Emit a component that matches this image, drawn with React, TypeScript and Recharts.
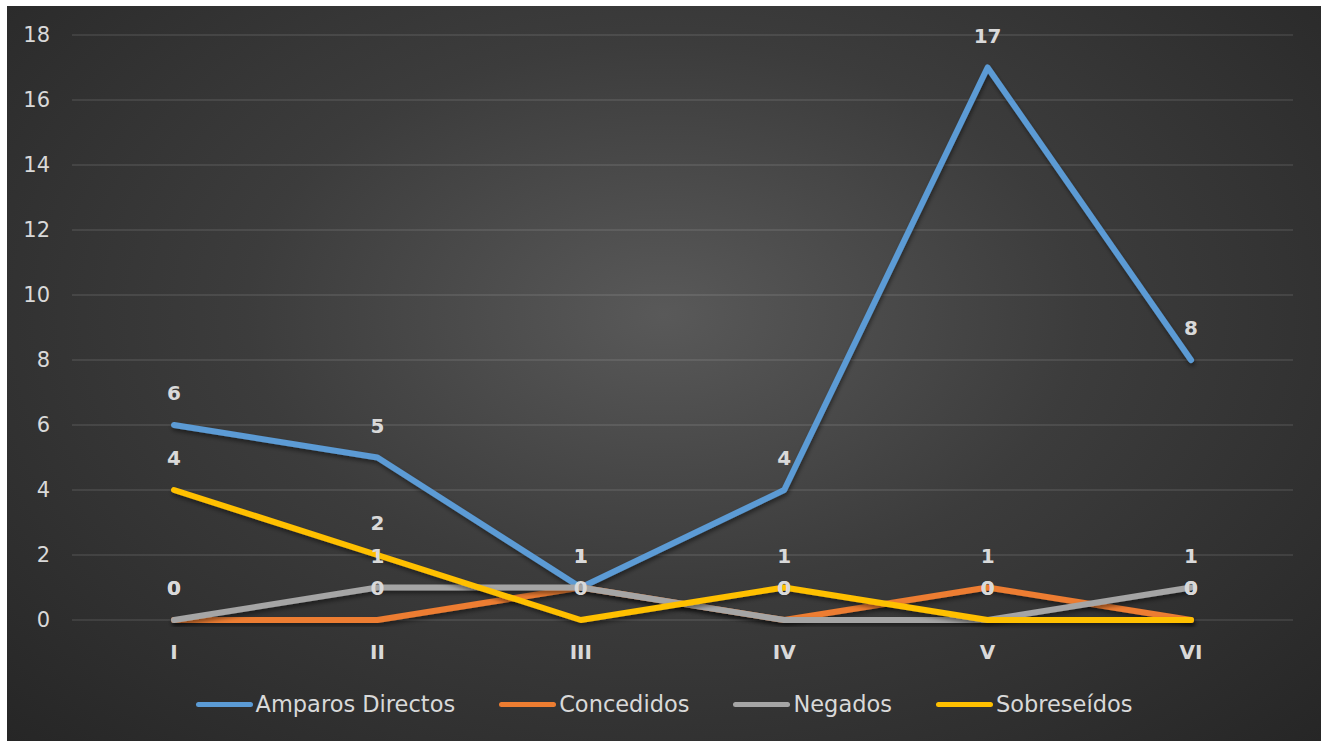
import React from "react";
import { LineChart, Line, XAxis, YAxis, CartesianGrid, Legend, LabelList } from "recharts";

const periods = ["I", "II", "III", "IV", "V", "VI"];
const amparosDirectos = [6, 5, 1, 4, 17, 8];
const concedidos = [0, 0, 1, 0, 1, 0];
const negados = [0, 1, 1, 0, 0, 1];
const sobreseidos = [4, 2, 0, 1, 0, 0];
const yTicks = [0, 2, 4, 6, 8, 10, 12, 14, 16, 18];

const SERIES = [
  { key: "amparos", name: "Amparos Directos", color: "#5b9bd5" },
  { key: "concedidos", name: "Concedidos", color: "#ed7d31" },
  { key: "negados", name: "Negados", color: "#a5a5a5" },
  { key: "sobreseidos", name: "Sobreseídos", color: "#ffc000" },
];

const data = periods.map((p, i) => ({
  period: p,
  amparos: amparosDirectos[i],
  concedidos: concedidos[i],
  negados: negados[i],
  sobreseidos: sobreseidos[i],
}));

const FONT = "'DejaVu Sans', sans-serif";
const TEXT = "#d9d9d9";

function LegendRow() {
  return (
    <div
      style={{
        height: 40,
        display: "flex",
        justifyContent: "center",
        alignItems: "center",
        gap: 44,
        fontFamily: FONT,
        fontSize: 22.5,
        color: TEXT,
      }}
    >
      {SERIES.map((s) => (
        <div key={s.key} style={{ display: "flex", alignItems: "center" }}>
          <span
            style={{
              display: "inline-block",
              width: 57,
              height: 5,
              borderRadius: 3,
              background: s.color,
              marginRight: 3,
            }}
          />
          <span>{s.name}</span>
        </div>
      ))}
    </div>
  );
}

export default function App() {
  return (
    <div
      style={{
        position: "absolute",
        left: 7,
        top: 6,
        width: 1314,
        height: 735,
        background:
          "radial-gradient(ellipse farthest-corner at 50% 42%, #595959 0%, #3c3c3c 45%, #262626 100%)",
      }}
    >
      <LineChart
        width={1314}
        height={735}
        data={data}
        margin={{ top: 29, right: 28, left: 15, bottom: 31 }}
      >
        <defs>
          <filter id="lineShadow" x="-5%" y="-20%" width="110%" height="140%">
            <feDropShadow dx="1" dy="3" stdDeviation="2" floodColor="#000" floodOpacity="0.45" />
          </filter>
        </defs>
        <CartesianGrid vertical={false} stroke="#ffffff" strokeOpacity={0.12} strokeWidth={1.5} />
        <XAxis
          dataKey="period"
          height={50}
          padding={{ left: 102, right: 102 }}
          axisLine={false}
          tickLine={false}
          tickMargin={19}
          tick={{ fill: TEXT, fontSize: 20, fontWeight: "bold", fontFamily: FONT }}
        />
        <YAxis
          width={50}
          domain={[0, 18]}
          ticks={yTicks}
          interval={0}
          axisLine={false}
          tickLine={false}
          tickMargin={16}
          tick={{ fill: TEXT, fontSize: 21, fontFamily: FONT }}
        />
        <Legend
          verticalAlign="bottom"
          content={() => <LegendRow />}
          wrapperStyle={{ top: 678, left: 0, width: 1314, bottom: "auto" }}
        />
        {SERIES.map((s) => (
          <Line
            key={s.key}
            type="linear"
            dataKey={s.key}
            name={s.name}
            stroke={s.color}
            strokeWidth={6}
            strokeLinecap="round"
            strokeLinejoin="round"
            dot={false}
            activeDot={false}
            filter="url(#lineShadow)"
            isAnimationActive={false}
          >
            <LabelList
              dataKey={s.key}
              position="top"
              offset={25}
              fill={TEXT}
              fontSize={20}
              fontWeight="bold"
              fontFamily={FONT}
            />
          </Line>
        ))}
      </LineChart>
    </div>
  );
}
